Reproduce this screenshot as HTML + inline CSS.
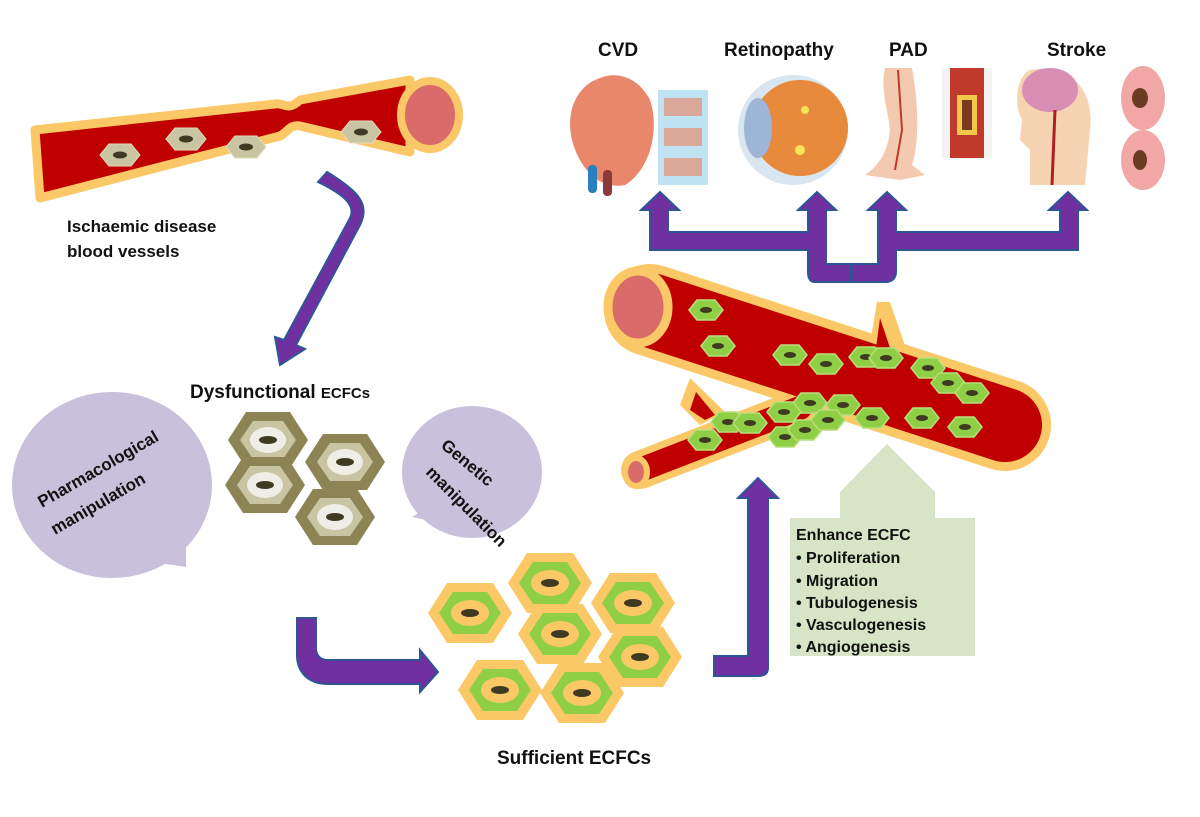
<!DOCTYPE html>
<html><head><meta charset="utf-8"><style>
html,body{margin:0;padding:0;background:#fff}
svg{display:block}
text{font-family:"Liberation Sans",sans-serif;font-weight:bold;fill:#111}
</style></head><body>
<svg width="1200" height="817" viewBox="0 0 1200 817" xmlns="http://www.w3.org/2000/svg">
<defs>
<g id="hd"><polygon points="-40,0 -22,-28 22,-28 40,0 22,28 -22,28" fill="#8c8455"/><polygon points="-28,0 -15,-19 15,-19 28,0 15,19 -15,19" fill="#c9c4a2"/><ellipse rx="18" ry="13" fill="#eeeee6"/><ellipse rx="9" ry="4" fill="#3f3a22"/></g>
<g id="hs"><polygon points="-42,0 -23,-30 23,-30 42,0 23,30 -23,30" fill="#fbc868"/><polygon points="-31,0 -17,-21 17,-21 31,0 17,21 -17,21" fill="#8fcf46"/><ellipse rx="19" ry="13" fill="#fbc868"/><ellipse rx="9" ry="4" fill="#3f3a22"/></g>
<g id="hg"><polygon points="-17,0 -9,-10 9,-10 17,0 9,10 -9,10" fill="#8fcf46" stroke="#b7df7a" stroke-width="1.5"/><ellipse rx="6" ry="3" fill="#3f3a22"/></g>
<g id="hb"><polygon points="-20,0 -11,-11 11,-11 20,0 11,11 -11,11" fill="#c9c4a2" stroke="#e0dcbe"/><ellipse rx="7" ry="3.5" fill="#3f3a22"/></g>
</defs>

<!-- left vessel -->
<path d="M35,130 L275,104 C284,102 287,112 300,100 L410,80 L410,152 L300,126 C290,124 288,132 280,136 L40,198 Z" fill="#c00000" stroke="#fbc868" stroke-width="9" stroke-linejoin="round"/>
<ellipse cx="430" cy="115" rx="29" ry="34" fill="#d96b6b" stroke="#fbc868" stroke-width="8"/>
<use href="#hb" x="120" y="155"/><use href="#hb" x="186" y="139"/><use href="#hb" x="246" y="147"/><use href="#hb" x="361" y="132"/>
<text x="67" y="232" font-size="17">Ischaemic disease</text>
<text x="67" y="257" font-size="17">blood vessels</text>

<!-- arrow 1 -->
<path d="M318,182 L327,172 C360,192 370,205 360,225 L296,345 L305,349 L280,365 L275,337 L284,340 L350,218 C356,206 345,195 318,182 Z" fill="#7030a0" stroke="#2f5597" stroke-width="2"/>

<text x="190" y="398" font-size="19">Dysfunctional <tspan font-size="15">ECFCs</tspan></text>

<!-- bubbles -->
<ellipse cx="112" cy="485" rx="100" ry="93" fill="#c9c0dc"/>
<polygon points="140,560 186,540 186,567" fill="#c9c0dc"/>
<text transform="translate(42,508) rotate(-30)" font-size="17">Pharmacological</text>
<text transform="translate(55,535) rotate(-30)" font-size="17">manipulation</text>
<ellipse cx="472" cy="472" rx="70" ry="66" fill="#c9c0dc"/>
<polygon points="412,517 440,500 450,525" fill="#c9c0dc"/>
<text transform="translate(440,447) rotate(40)" font-size="17">Genetic</text>
<text transform="translate(425,473) rotate(45)" font-size="17">manipulation</text>

<use href="#hd" x="268" y="440"/><use href="#hd" x="345" y="462"/><use href="#hd" x="265" y="485"/><use href="#hd" x="335" y="517"/>

<!-- sufficient -->
<use href="#hs" x="550" y="583"/><use href="#hs" x="633" y="603"/><use href="#hs" x="470" y="613"/><use href="#hs" x="560" y="634"/><use href="#hs" x="640" y="657"/><use href="#hs" x="500" y="690"/><use href="#hs" x="582" y="693"/>
<text x="497" y="764" font-size="19">Sufficient ECFCs</text>

<!-- arrow bottom -->
<path d="M297,618 L316,618 L316,648 C316,655 320,660 328,660 L420,660 L420,650 L438,672 L420,692 L420,684 L328,684 C308,684 297,672 297,655 Z" fill="#7030a0" stroke="#2f5597" stroke-width="2"/>
<!-- arrow up -->
<path d="M714,656 L748,656 L748,498 L738,498 L758,478 L778,498 L768,498 L768,668 C768,674 764,676 758,676 L714,676 Z" fill="#7030a0" stroke="#2f5597" stroke-width="2"/>

<!-- green arrow -->
<polygon points="840,492 887,444 935,492 935,518 975,518 975,656 790,656 790,518 840,518" fill="#d7e4c5"/>
<text x="796" y="540" font-size="16">Enhance ECFC</text>
<g font-size="16">
<text x="796" y="563">•  Proliferation</text>
<text x="796" y="586">•  Migration</text>
<text x="796" y="608">•  Tubulogenesis</text>
<text x="796" y="630">•  Vasculogenesis</text>
<text x="796" y="652">•  Angiogenesis</text>
</g>

<!-- big vessel -->
<g stroke-linecap="round">
<line x1="640" y1="470" x2="800" y2="408" stroke="#fbc868" stroke-width="38"/>
<polygon points="680,405 690,378 725,412 700,425" fill="#fbc868"/>
<polygon points="865,375 877,302 890,302 915,375" fill="#fbc868"/>
<line x1="650" y1="310" x2="1005" y2="425" stroke="#fbc868" stroke-width="92"/>
<line x1="640" y1="470" x2="800" y2="408" stroke="#c00000" stroke-width="24"/>
<polygon points="690,410 696,392 715,415 705,420" fill="#c00000"/>
<polygon points="872,378 880,318 900,378" fill="#c00000"/>
<line x1="650" y1="310" x2="1005" y2="425" stroke="#c00000" stroke-width="74"/>
</g>
<ellipse cx="638" cy="307" rx="30" ry="36" fill="#d96b6b" stroke="#fbc868" stroke-width="9"/>
<ellipse cx="636" cy="472" rx="11" ry="14" fill="#d96b6b" stroke="#fbc868" stroke-width="6"/>
<use href="#hg" x="706" y="310"/><use href="#hg" x="718" y="346"/><use href="#hg" x="790" y="355"/><use href="#hg" x="826" y="364"/><use href="#hg" x="866" y="357"/><use href="#hg" x="886" y="358"/><use href="#hg" x="928" y="368"/><use href="#hg" x="948" y="383"/><use href="#hg" x="972" y="393"/><use href="#hg" x="810" y="403"/><use href="#hg" x="784" y="412"/><use href="#hg" x="843" y="405"/><use href="#hg" x="872" y="418"/><use href="#hg" x="922" y="418"/><use href="#hg" x="965" y="427"/><use href="#hg" x="728" y="422"/><use href="#hg" x="750" y="423"/><use href="#hg" x="705" y="440"/><use href="#hg" x="785" y="437"/><use href="#hg" x="805" y="430"/><use href="#hg" x="828" y="420"/>

<!-- top arrows -->
<g fill="#7030a0" stroke="#2f5597" stroke-width="2">
<path d="M650,250 L650,210 L641,210 L660,192 L679,210 L668,210 L668,232 L808,232 L808,210 L798,210 L817,192 L836,210 L826,210 L826,264 L850,264 L850,282 L815,282 C810,282 808,278 808,272 L808,250 Z"/>
<path d="M1078,250 L1078,210 L1087,210 L1068,192 L1049,210 L1060,210 L1060,232 L896,232 L896,210 L906,210 L887,192 L868,210 L878,210 L878,264 L852,264 L852,282 L886,282 C892,282 896,278 896,272 L896,250 Z"/>
</g>

<!-- top labels -->
<text x="598" y="56" font-size="19">CVD</text>
<text x="724" y="56" font-size="19">Retinopathy</text>
<text x="889" y="56" font-size="19">PAD</text>
<text x="1047" y="56" font-size="19">Stroke</text>

<!-- heart -->
<path d="M600,78 C620,70 640,80 650,100 C660,130 650,170 625,185 C600,190 580,170 572,140 C565,110 578,85 600,78 Z" fill="#e8876a"/>
<rect x="588" y="165" width="9" height="28" rx="4" fill="#2a7fc0"/><rect x="603" y="170" width="9" height="26" rx="4" fill="#8b3a3a"/>
<rect x="658" y="90" width="50" height="95" fill="#bfe3f2"/>
<rect x="664" y="98" width="38" height="18" fill="#d9a89a"/><rect x="664" y="128" width="38" height="18" fill="#d9a89a"/><rect x="664" y="158" width="38" height="18" fill="#d9a89a"/>
<!-- eye -->
<circle cx="793" cy="130" r="55" fill="#d9e6ef"/>
<circle cx="800" cy="128" r="48" fill="#e88a3c"/>
<ellipse cx="758" cy="128" rx="14" ry="30" fill="#9bb6d6"/>
<circle cx="805" cy="110" r="4" fill="#f5e35a"/><circle cx="800" cy="150" r="5" fill="#f5e35a"/>
<!-- leg -->
<path d="M885,68 L912,68 C918,100 920,140 912,165 L925,175 L900,180 L865,175 C880,165 888,150 890,130 C888,110 880,90 885,68 Z" fill="#f3c9b0"/>
<path d="M898,70 L902,130 L895,170" stroke="#c0392b" stroke-width="2" fill="none"/>
<rect x="942" y="68" width="50" height="90" fill="#f4f4f4"/><rect x="950" y="68" width="34" height="90" fill="#c0392b"/>
<rect x="957" y="95" width="20" height="40" fill="#f0c94a"/><rect x="962" y="100" width="10" height="30" fill="#7a3a20"/>
<!-- head -->
<path d="M1030,70 C1070,62 1095,90 1090,130 L1085,185 L1030,185 L1030,150 L1020,140 L1022,120 L1018,110 C1015,90 1020,75 1030,70 Z" fill="#f6d3b3"/>
<ellipse cx="1050" cy="90" rx="28" ry="22" fill="#d98fb3"/>
<path d="M1055,110 L1052,185" stroke="#b02020" stroke-width="3" fill="none"/>
<ellipse cx="1143" cy="98" rx="22" ry="32" fill="#f2a7a7"/><ellipse cx="1143" cy="160" rx="22" ry="30" fill="#f2a7a7"/>
<ellipse cx="1140" cy="98" rx="8" ry="10" fill="#6b3a22"/><ellipse cx="1140" cy="160" rx="7" ry="10" fill="#6b3a22"/>
</svg>
</body></html>
